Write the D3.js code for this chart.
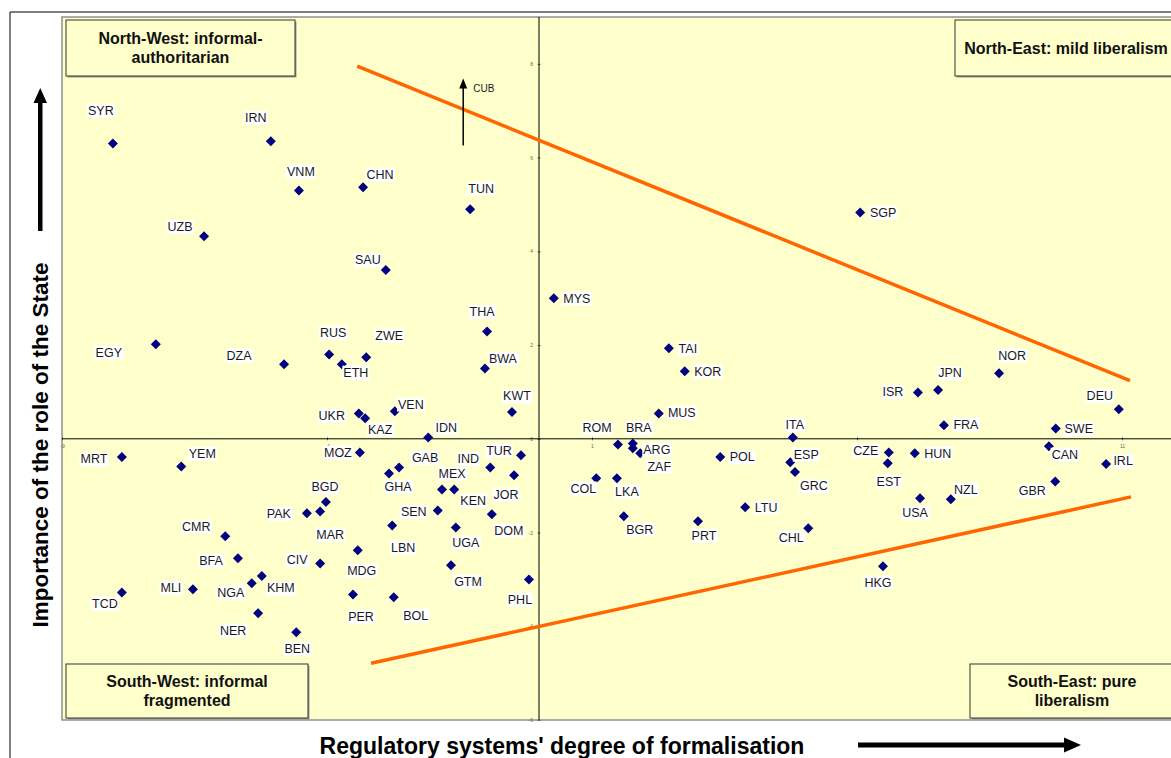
<!DOCTYPE html>
<html lang="en">
<head>
<meta charset="UTF-8">
<title>Regulatory systems</title>
<script src="https://d3js.org/d3.v7.min.js"></script>
<style>
    body { margin: 0; background: #fff; }
    svg text { font-family: Arial, "Liberation Sans", sans-serif; }
</style>
</head>
<body>
<svg id="main" width="1171" height="758"></svg>
<script>
// country codes and their two coordinates
const codes = ['SYR','IRN','VNM','CHN','TUN','UZB','SAU','THA','EGY','DZA','RUS','ETH','ZWE','BWA',
    'MYS','TAI','KOR','SGP','NOR','JPN','ISR','FRA','DEU','SWE','ITA','MUS','KWT','UKR','KAZ','VEN','IDN',
    'MRT','YEM','MOZ','GAB','GHA','IND','TUR','JOR','MEX','KEN','SEN','DOM','BGD','PAK','MAR','LBN','UGA',
    'CMR','BFA','CIV','MDG','GTM','MLI','NGA','KHM','TCD','NER','PER','BOL','PHL','BEN',
    'ROM','BRA','ARG','ZAF','COL','LKA','BGR','PRT','POL','LTU','ESP','GRC','CHL','CZE','EST','HUN',
    'USA','NZL','CAN','GBR','IRL','HKG'];
const formalisation = [-8.04,-5.06,-4.53,-3.32,-1.30,-6.32,-2.89,-0.98,-7.23,-4.81,-3.96,-3.72,-3.26,-1.02,
    0.28,2.45,2.75,6.06,8.68,7.53,7.15,7.64,10.94,9.75,4.79,2.26,-0.51,-3.40,-3.28,-2.72,-2.09,
    -7.87,-6.75,-3.38,-2.64,-2.83,-0.92,-0.34,-0.47,-1.83,-1.60,-1.91,-0.89,-4.02,-4.38,-4.13,-2.77,-1.57,
    -5.92,-5.68,-4.13,-3.42,-1.66,-6.53,-5.42,-5.23,-7.87,-5.30,-3.51,-2.74,-0.19,-4.58,
    1.49,1.77,1.77,1.91,1.08,1.47,1.60,3.00,3.42,3.89,4.74,4.83,5.08,6.60,6.58,7.09,
    7.19,7.77,9.62,9.74,10.70,6.49];
const stateRole = [6.30,6.35,5.30,5.37,4.90,4.32,3.60,2.29,2.02,1.59,1.80,1.59,1.74,1.50,
    3.00,1.93,1.44,4.83,1.40,1.04,0.99,0.29,0.63,0.22,0.03,0.54,0.57,0.54,0.44,0.59,0.03,
    -0.39,-0.59,-0.29,-0.61,-0.74,-0.61,-0.35,-0.78,-1.08,-1.08,-1.53,-1.61,-1.35,-1.59,-1.55,-1.85,-1.89,
    -2.08,-2.55,-2.66,-2.38,-2.70,-3.21,-3.08,-2.93,-3.28,-3.72,-3.32,-3.38,-3.00,-4.13,
    -0.12,-0.10,-0.20,-0.31,-0.84,-0.84,-1.65,-1.76,-0.39,-1.46,-0.50,-0.71,-1.91,-0.29,-0.52,-0.31,
    -1.27,-1.29,-0.16,-0.91,-0.54,-2.72];

// Cuba is off the chart: shown by an arrow
const cubaArrow = [[-1.43, 6.26], [-1.43, 7.69]];

// boundary lines
const upperLine = [[-3.43, 7.95], [11.15, 1.24]];
const lowerLine = [[-3.17, -4.79], [11.17, -1.24]];

const xTicks = [-9, -4, 1, 6, 11];
const yTicks = [-6, -4, -2, 0, 2, 4, 6, 8];

// label placement (offset of the label centre from the marker, px)
const labelShift = {
    SYR:[-12,-33], IRN:[-15,-24], VNM:[2,-19], CHN:[17,-13], TUN:[11,-21], UZB:[-24,-10], SAU:[-18,-10],
    THA:[-5,-20], EGY:[-47,8], DZA:[-45,-9], RUS:[4,-22], ETH:[14,8], ZWE:[23,-22], BWA:[18,-10],
    MYS:[23,0], TAI:[19,0], KOR:[23,0], SGP:[23,0], NOR:[13,-18], JPN:[12,-17], ISR:[-25,-1], FRA:[22,-1],
    DEU:[-19,-14], SWE:[23,0], ITA:[2,-13], MUS:[23,-1], KWT:[5,-16], UKR:[-27,2], KAZ:[15,11], VEN:[16,-7],
    IDN:[18,-10], MRT:[-28,2], YEM:[21,-13], MOZ:[-22,0], GAB:[26,-10], GHA:[9,13], IND:[-22,-9],
    TUR:[-22,-5], JOR:[-8,19], MEX:[10,-16], KEN:[19,11], SEN:[-24,1], DOM:[17,16], BGD:[-1,-15],
    PAK:[-28,0], MAR:[10,23], LBN:[11,22], UGA:[10,15], CMR:[-29,-10], BFA:[-27,2], CIV:[-23,-4],
    MDG:[4,20], GTM:[17,16], MLI:[-22,-2], NGA:[-21,9], KHM:[19,12], TCD:[-17,11], NER:[-25,17],
    PER:[8,22], BOL:[22,18], PHL:[-9,20], BEN:[1,16], ROM:[-21,-17], BRA:[6,-16], ARG:[24,1], ZAF:[19,13],
    COL:[-13,10], LKA:[10,13], BGR:[16,13], PRT:[6,14], POL:[22,0], LTU:[21,0], ESP:[16,-8], GRC:[19,14],
    CHL:[-17,9], CZE:[-23,-2], EST:[1,18], HUN:[23,0], USA:[-5,14], NZL:[15,-10], CAN:[16,8], GBR:[-23,9],
    IRL:[17,-3], HKG:[-5,16]
};

const data = codes.map((c, i) => ({code: c, x: formalisation[i], y: stateRole[i]}));

let svg = d3.select('svg#main');

let plotLeft = 62, plotTop = 17, plotBottom = 720;
let x = d3.scaleLinear().domain([-9, 13]).range([plotLeft, plotLeft + 22 * 53]);
let y = d3.scaleLinear().domain([-6, 9]).range([plotBottom, plotTop]);

// outer frame
svg.append('path').attr('d', 'M10,758 L10,12 L1171,12')
    .attr('fill', 'none').attr('stroke', '#000').attr('stroke-width', 1);

// plot area
svg.append('rect')
    .attr('x', plotLeft).attr('y', plotTop)
    .attr('width', x.range()[1] - plotLeft).attr('height', plotBottom - plotTop)
    .attr('fill', '#ffffcc').attr('stroke', '#909090').attr('stroke-width', 1.5);

// axes through zero
let yAxis = svg.append('g')
    .attr('transform', 'translate(' + x(0) + ',0)')
    .call(d3.axisLeft(y).tickValues(yTicks).tickSize(3).tickFormat(d => String(d)));
let xAxis = svg.append('g')
    .attr('transform', 'translate(0,' + y(0) + ')')
    .call(d3.axisBottom(x).tickValues(xTicks).tickSize(3).tickFormat(d => String(d)));
[xAxis, yAxis].forEach(a => {
    a.select('.domain').remove();
    a.selectAll('line').attr('stroke', '#666').attr('transform', a === xAxis ? 'translate(0,-1.5)' : 'translate(1.5,0)');
    a.selectAll('text').attr('font-size', 5).attr('fill', '#666');
});
svg.append('line').attr('x1', x(0)).attr('x2', x(0)).attr('y1', plotTop).attr('y2', plotBottom)
    .attr('stroke', '#000').attr('stroke-width', 1);
svg.append('line').attr('x1', plotLeft).attr('x2', 1171).attr('y1', y(0)).attr('y2', y(0))
    .attr('stroke', '#000').attr('stroke-width', 1);

// orange boundary lines
let line = d3.line().x(d => x(d[0])).y(d => y(d[1]));
[upperLine, lowerLine].forEach(l => {
    svg.append('path').attr('d', line(l))
        .attr('fill', 'none').attr('stroke', '#ff6600').attr('stroke-width', 3.5);
});

// markers
svg.selectAll('path.pt').data(data).enter().append('path')
    .attr('class', 'pt')
    .attr('d', 'M0,-5L5,0L0,5L-5,0Z')
    .attr('fill', '#000080')
    .attr('transform', d => 'translate(' + x(d.x) + ',' + y(d.y) + ')');

// labels with white background
let labels = svg.selectAll('g.lbl').data(data).enter().append('g')
    .attr('class', 'lbl')
    .attr('transform', d => {
        let s = labelShift[d.code] || [20, 0];
        return 'translate(' + (x(d.x) + s[0]) + ',' + (y(d.y) + s[1]) + ')';
    });
labels.append('text')
    .attr('text-anchor', 'middle').attr('dy', '0.35em')
    .attr('font-size', 12.5).attr('fill', '#1a1a1a')
    .text(d => d.code);
labels.each(function () {
    let g = d3.select(this);
    let b = g.select('text').node().getBBox();
    g.insert('rect', 'text')
        .attr('x', b.x - 1).attr('y', b.y).attr('width', b.width + 2).attr('height', b.height)
        .attr('fill', '#fff');
});

// Cuba arrow
let cx = x(cubaArrow[0][0]), cy0 = y(cubaArrow[0][1]), cy1 = y(cubaArrow[1][1]);
svg.append('line')
    .attr('x1', cx).attr('y1', cy0).attr('x2', cx).attr('y2', cy1 + 9)
    .attr('stroke', '#000').attr('stroke-width', 1.5);
svg.append('path')
    .attr('d', d3.line()([[cx - 4, cy1 + 10], [cx, cy1], [cx + 4, cy1 + 10]]) + 'Z')
    .attr('fill', '#000');
svg.append('text')
    .attr('x', cx + 10).attr('y', cy1 + 14)
    .attr('font-size', 10).attr('fill', '#1a1a1a').text('CUB');

// quadrant boxes
const boxes = [
    {x: 66, y: 20, w: 229, h: 56, lines: ['North-West: informal-', 'authoritarian']},
    {x: 955, y: 20, w: 222, h: 56, lines: ['North-East: mild liberalism']},
    {x: 66, y: 664, w: 242, h: 54, lines: ['South-West: informal', 'fragmented']},
    {x: 970, y: 664, w: 204, h: 54, lines: ['South-East: pure', 'liberalism']}
];
boxes.forEach(b => {
    svg.append('rect').attr('x', b.x + 1.5).attr('y', b.y + 1.5).attr('width', b.w).attr('height', b.h)
        .attr('fill', '#999');
    svg.append('rect').attr('x', b.x).attr('y', b.y).attr('width', b.w).attr('height', b.h)
        .attr('fill', '#ffffcc').attr('stroke', '#333').attr('stroke-width', 1);
    let n = b.lines.length;
    b.lines.forEach((t, i) => {
        svg.append('text')
            .attr('x', b.x + b.w / 2).attr('y', b.y + b.h / 2 + (i - (n - 1) / 2) * 19)
            .attr('dy', '0.35em').attr('text-anchor', 'middle')
            .attr('font-size', 16).attr('font-weight', 'bold').attr('fill', '#111')
            .attr('textLength', null)
            .text(t);
    });
});

// axis titles and arrows
svg.append('text')
    .attr('transform', 'translate(48,445) rotate(-90)')
    .attr('text-anchor', 'middle')
    .attr('font-size', 22.5).attr('font-weight', 'bold').attr('fill', '#000')
    .text('Importance of the role of the State');
svg.append('rect').attr('x', 38).attr('y', 102).attr('width', 4.5).attr('height', 129).attr('fill', '#000');
svg.append('path').attr('d', 'M33.5,103L40.25,88L47,103Z').attr('fill', '#000');

svg.append('text')
    .attr('x', 562).attr('y', 754)
    .attr('text-anchor', 'middle')
    .attr('font-size', 23).attr('font-weight', 'bold').attr('fill', '#000')
    .text("Regulatory systems' degree of formalisation");
svg.append('rect').attr('x', 858).attr('y', 742.5).attr('width', 208).attr('height', 5).attr('fill', '#000');
svg.append('path').attr('d', 'M1064,737.5L1081,745L1064,752.5Z').attr('fill', '#000');
</script>
</body>
</html>
